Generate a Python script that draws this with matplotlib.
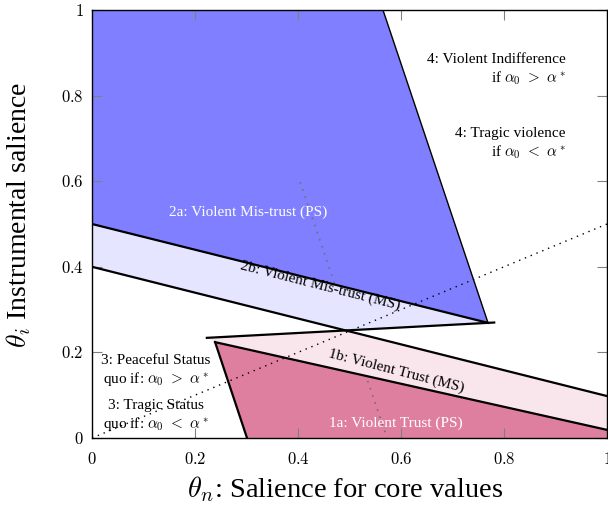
import numpy as np
import matplotlib
matplotlib.use("Agg")
import matplotlib.pyplot as plt
from matplotlib.patches import Polygon
from matplotlib.ticker import FuncFormatter

plt.rcParams["font.family"] = ["Liberation Serif", "DejaVu Serif"]
plt.rcParams["mathtext.fontset"] = "cm"

# region corners (theta_n, theta_i)
top_right = (0.565, 1.0)      # 2a top-right corner
tip = (0.769, 0.269)          # 2a / 2b tip
upper_left = (0.0, 0.5)       # 2a / 2b boundary on the left
band_left = (0.0, 0.4)        # 2b / 1b boundary, left end
band_right = (1.0, 0.098)     # ... right end
zig_left = (0.223, 0.234)     # 1b left tip
apex = (0.239, 0.224)         # 1a apex
trust_right = (1.0, 0.019)    # 1a / 1b boundary at right edge
trust_base = (0.301, 0.0)     # 1a bottom-left

# grey dotted guide (only shows inside 2a and 1a)
guide_x = [0.404, 0.573]
guide_y = [0.598, 0.0]

# dotted diagonal theta_i = theta_n / 2
diag_x = [0.0, 1.0]
diag_y = [0.0, 0.5]

ticks = [0, 0.2, 0.4, 0.6, 0.8, 1]


def intersect(p1, p2, p3, p4):
    a = np.array([[p2[0] - p1[0], p3[0] - p4[0]], [p2[1] - p1[1], p3[1] - p4[1]]])
    b = np.array([p3[0] - p1[0], p3[1] - p1[1]])
    t = np.linalg.solve(a, b)[0]
    return (p1[0] + t * (p2[0] - p1[0]), p1[1] + t * (p2[1] - p1[1]))


cross = intersect(zig_left, tip, band_left, band_right)

fig = plt.figure(figsize=(6.08, 5.08), dpi=100)
ax = fig.add_axes([92 / 608, 1 - 438 / 508, 515 / 608, 428 / 508])

blue50 = "#7f7fff"
blue10 = "#e5e5ff"
purple50 = "#df7f9f"
purple10 = "#f9e5ec"

reg2a = Polygon([(0, 1), top_right, tip, upper_left], closed=True,
                fc=blue50, ec="none", zorder=1)
reg2b = Polygon([upper_left, tip, cross, band_left], closed=True,
                fc=blue10, ec="none", zorder=1)
reg1b = Polygon([zig_left, cross, band_right, trust_right, apex], closed=True,
                fc=purple10, ec="none", zorder=1)
reg1a = Polygon([apex, trust_right, (1, 0), trust_base], closed=True,
                fc=purple50, ec="none", zorder=1)
for r in (reg2a, reg2b, reg1b, reg1a):
    ax.add_patch(r)

# boundaries
ax.plot([top_right[0], tip[0]], [top_right[1], tip[1]], color="black", lw=1.0, zorder=3)
ax.plot([upper_left[0], tip[0]], [upper_left[1], tip[1]], color="black", lw=1.6, zorder=3)
ax.plot([band_left[0], band_right[0]], [band_left[1], band_right[1]], color="black", lw=1.6, zorder=3)
ax.plot([zig_left[0], tip[0] + 0.012], [zig_left[1], tip[1] + 0.0008], color="black", lw=1.6, zorder=3)
ax.plot([apex[0], trust_right[0]], [apex[1], trust_right[1]], color="black", lw=1.6, zorder=3)
ax.plot([apex[0], trust_base[0]], [apex[1], trust_base[1]], color="black", lw=1.6, zorder=3)

for r in (reg2a, reg1a):
    g, = ax.plot(guide_x, guide_y, color="#707070", lw=1.2, ls=(0, (1, 3.5)), zorder=2)
    g.set_clip_path(r)
ax.plot(diag_x, diag_y, color="black", lw=1.0, ls=(0, (1, 3.5)), zorder=2)

# labels
fs = 11
ax.text(0.303, 0.528, "2a: Violent Mis-trust (PS)", color="white", fontsize=fs,
        ha="center", va="center", zorder=4)
ax.text(0.443, 0.356, "2b: Violent Mis-trust (MS)", color="black", fontsize=fs,
        ha="center", va="center", rotation=-14.3, rotation_mode="anchor", zorder=4)
ax.text(0.590, 0.157, "1b: Violent Trust (MS)", color="black", fontsize=fs,
        ha="center", va="center", rotation=-14.5, rotation_mode="anchor", zorder=4)
ax.text(0.589, 0.034, "1a: Violent Trust (PS)", color="white", fontsize=fs,
        ha="center", va="center", zorder=4)
ax.text(0.920, 0.86, "4: Violent Indifference\n" + r"if $\alpha_0\ >\ \alpha^*$",
        fontsize=fs, ha="right", va="center", multialignment="right", zorder=4)
ax.text(0.920, 0.687, "4: Tragic violence\n" + r"if $\alpha_0\ <\ \alpha^*$",
        fontsize=fs, ha="right", va="center", multialignment="right", zorder=4)
ax.text(0.124, 0.157, "3: Peaceful Status\n" + r"quo if: $\alpha_0\ >\ \alpha^*$",
        fontsize=fs, ha="center", va="center", multialignment="center", zorder=4)
ax.text(0.124, 0.051, "3: Tragic Status\n" + r"quo if: $\alpha_0\ <\ \alpha^*$",
        fontsize=fs, ha="center", va="center", multialignment="center", zorder=4)

ax.set_xlim(0, 1)
ax.set_ylim(0, 1)
ax.set_xticks(ticks)
ax.set_yticks(ticks)
fmt = FuncFormatter(lambda v, p: "$%g$" % v)
ax.xaxis.set_major_formatter(fmt)
ax.yaxis.set_major_formatter(fmt)
ax.tick_params(direction="in", length=7, width=0.8, color="#808080",
               top=True, right=True, labelsize=12, pad=6)
ax.tick_params(axis="x", pad=10)
for s in ax.spines.values():
    s.set_linewidth(1.0)
    s.set_zorder(5)

ax.set_xlabel(r"$\theta_n$: Salience for core values", fontsize=20.5)
ax.set_ylabel(r"$\theta_i$ Instrumental salience", fontsize=20)
ax.xaxis.set_label_coords(0.491, -0.085)
ax.yaxis.set_label_coords(-0.115, 0.52)

fig.savefig("out.png", dpi=100)
